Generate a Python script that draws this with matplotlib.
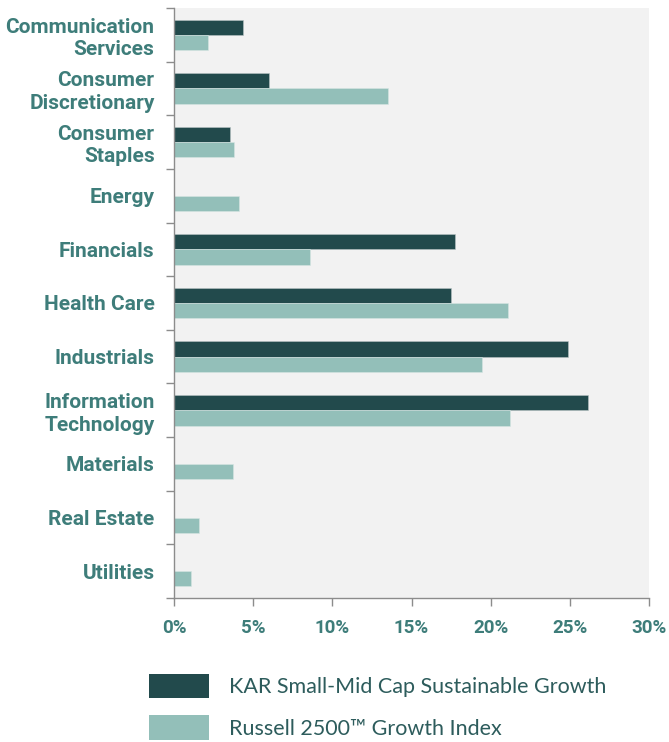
import numpy as np
import matplotlib.pyplot as plt
from matplotlib.patches import Patch

# sector weights (%)
sectors = ["Communication\nServices", "Consumer\nDiscretionary", "Consumer\nStaples",
           "Energy", "Financials", "Health Care", "Industrials",
           "Information\nTechnology", "Materials", "Real Estate", "Utilities"]
kar_weights = [4.38, 6.0, 3.54, 0.0, 17.77, 17.48, 24.9, 26.17, 0.0, 0.0, 0.0]
russell_weights = [2.13, 13.5, 3.79, 4.1, 8.57, 21.1, 19.44, 21.25, 3.73, 1.58, 1.07]
x_ticks = [0, 5, 10, 15, 20, 25, 30]
series_names = ["KAR Small-Mid Cap Sustainable Growth", "Russell 2500\u2122 Growth Index"]

DARK = "#224a4c"
LIGHT = "#93bfb9"
TEAL = "#3e7d7a"
SPINE = "#8c8c8c"

fig = plt.figure(figsize=(6.69, 7.42), dpi=100)
ax = fig.add_axes([174 / 669, 1 - 598 / 742, 475 / 669, 590 / 742])
ax.set_facecolor("#f2f2f2")

y = np.arange(len(sectors))
h = 0.285
ax.barh(y - h / 2, kar_weights, height=h, color=DARK, edgecolor="#b8c4c4", linewidth=0.4)
ax.barh(y + h / 2, russell_weights, height=h, color=LIGHT, edgecolor="#d6e6e3", linewidth=0.4)

ax.set_ylim(len(sectors) - 0.5, -0.5)
ax.set_xlim(0, 30)

ax.set_yticks(y)
ax.set_yticklabels(sectors, fontsize=15, fontweight="bold", color=TEAL,
                   family=["Roboto", "DejaVu Sans"], linespacing=1.22)
ax.set_yticks(np.arange(-0.5, len(sectors), 1.0), minor=True)
ax.tick_params(axis="y", which="major", length=0, pad=14)
ax.tick_params(axis="y", which="minor", length=6, color=SPINE, width=1)

ax.set_xticks(x_ticks)
ax.set_xticklabels([f"{t}%" for t in x_ticks], fontsize=13.5, fontweight="bold",
                   color=TEAL, family=["Roboto", "DejaVu Sans"])
ax.tick_params(axis="x", length=6, color=SPINE, width=1, pad=9)

for s in ["top", "right"]:
    ax.spines[s].set_visible(False)
for s in ["left", "bottom"]:
    ax.spines[s].set_color(SPINE)
    ax.spines[s].set_linewidth(1)

handles = [Patch(facecolor=DARK, edgecolor="none"), Patch(facecolor=LIGHT, edgecolor="none")]
fig.legend(handles, series_names, loc="upper left", bbox_to_anchor=(149 / 669, 1 - 674 / 742),
           frameon=False, borderpad=0, borderaxespad=0, handlelength=2.8, handleheight=1.35,
           handletextpad=0.9, labelspacing=0.8,
           prop={"family": ["Lato", "DejaVu Sans"], "size": 15.5}, labelcolor="#2d5c5c")

fig.savefig("out.png", dpi=100)
